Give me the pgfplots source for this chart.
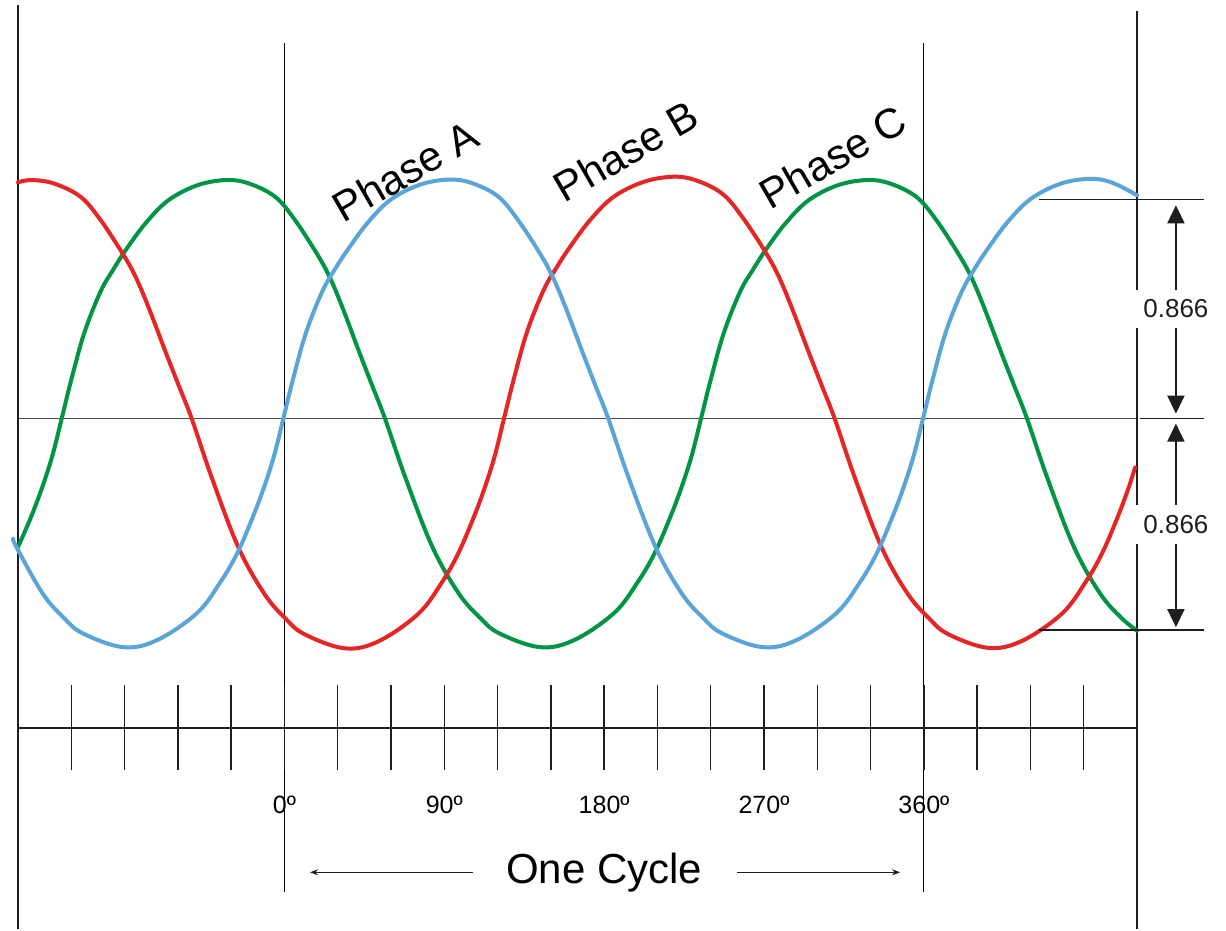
\documentclass[border=0pt]{standalone}
\usepackage{fontspec}
\setmainfont{Liberation Sans}
\usepackage{pgfplots}
\pgfplotsset{compat=1.18}
\usetikzlibrary{arrows.meta}

\definecolor{phA}{RGB}{90,164,216}
\definecolor{phB}{RGB}{228,38,38}
\definecolor{phC}{RGB}{0,148,68}
\definecolor{thin}{RGB}{110,110,110}
\definecolor{dark}{RGB}{30,30,30}

\begin{document}
\begin{tikzpicture}
\begin{axis}[
  scale only axis, width=559.35pt, height=464.5pt,
  xmin=-150, xmax=480, ymin=-2.1723, ymax=1.7809,
  hide axis, clip=false,
]
% picture frame (invisible)
\path (axis cs:-160.13,-2.1723) rectangle (axis cs:530.1,1.7809);

% thin guide lines
\draw[thin, line width=0.6pt] (axis cs:0,1.598) -- (axis cs:0,-2.015);
\draw[thin, line width=0.6pt] (axis cs:360,1.598) -- (axis cs:360,-2.015);
\draw[thin!70!black, line width=0.5pt] (axis cs:-150,0) -- (axis cs:480,0);

% borders
\draw[dark, line width=1.0pt] (axis cs:-150,1.7596) -- (axis cs:-150,-2.1723);
\draw[dark, line width=0.9pt] (axis cs:480,1.734) -- (axis cs:480,-2.1723);

% ruler
\draw[dark, line width=1.0pt] (axis cs:-150,-1.317) -- (axis cs:480,-1.317);
\pgfplotsinvokeforeach{-120,-90,-60,-30,0,30,60,90,120,150,180,210,240,270,300,330,360,390,420,450}{
  \draw[dark, line width=0.7pt] (axis cs:#1,-1.134) -- (axis cs:#1,-1.496);
}

% Phase C (green)
\addplot[phC, line width=2pt, smooth, tension=0.6, line join=round, line cap=round] coordinates {
(-150,-0.546) (-143.17,-0.428) (-136.78,-0.301) (-130.73,-0.160) (-125.4,0)
(-119.94,0.167) (-112.66,0.365) (-103.56,0.540) (-96.28,0.635) (-89.0,0.721) (-78.07,0.832)
(-65.33,0.929) (-48.95,0.993) (-32.57,1.015) (-19.83,1.0) (-5.27,0.944) (5.65,0.848)
(18.40,0.700) (25.68,0.599) (32.96,0.467) (42.06,0.284) (49.34,0.142) (56.62,0)
(68.01,-0.249) (83.31,-0.546) (98.07,-0.743) (109.99,-0.846) (120.85,-0.913) (143.62,-0.972)
(162.83,-0.943) (185.60,-0.827) (198.95,-0.695) (208.38,-0.573) (216.74,-0.428) (223.15,-0.301)
(229.19,-0.160) (234.53,0)
(240.04,0.167) (247.38,0.365) (256.55,0.540) (263.90,0.635) (271.24,0.721) (282.25,0.832)
(295.10,0.929) (311.62,0.993) (328.14,1.015) (341.0,1.0) (355.67,0.944) (366.68,0.848)
(379.53,0.700) (386.87,0.599) (394.21,0.467) (403.39,0.284) (410.73,0.142) (418.07,0)
(429.35,-0.249) (444.5,-0.546) (459.13,-0.743) (470.94,-0.846) (480,-0.902)
};
% Phase B (red)
\addplot[phB, line width=2pt, smooth, tension=0.6, line join=round, line cap=round] coordinates {
(-150,1.005) (-142.52,1.015) (-129.62,1.000) (-114.87,0.944) (-103.81,0.848) (-90.91,0.700)
(-83.54,0.599) (-76.16,0.467) (-66.94,0.284) (-59.57,0.142) (-52.2,0)
(-40.95,-0.250) (-25.83,-0.549) (-11.24,-0.746) (0.54,-0.850) (11.26,-0.917) (33.77,-0.977)
(52.75,-0.948) (75.26,-0.831) (88.44,-0.699) (97.76,-0.575) (106.02,-0.430) (112.35,-0.303)
(118.33,-0.161) (123.6,0)
(129.19,0.170) (136.63,0.370) (145.94,0.547) (153.39,0.645) (160.84,0.731) (172.01,0.844)
(185.04,0.942) (201.80,1.006) (218.55,1.029) (231.58,1.014) (246.48,0.957) (257.65,0.859)
(270.68,0.710) (278.13,0.607) (285.58,0.473) (294.89,0.288) (302.33,0.144) (309.78,0)
(321.07,-0.250) (336.24,-0.548) (350.88,-0.745) (362.70,-0.848) (373.46,-0.916) (396.05,-0.975)
(415.10,-0.946) (437.68,-0.830) (450.91,-0.697) (460.26,-0.574) (468.55,-0.429) (474.90,-0.302)
(478.9,-0.208)
};
% Phase A (blue)
\addplot[phA, line width=2pt, smooth, tension=0.6, line join=round, line cap=round] coordinates {
(-152.67,-0.511) (-150.9,-0.546) (-136.2,-0.743) (-124.4,-0.846) (-113.6,-0.913) (-91.0,-0.972)
(-71.9,-0.943) (-49.2,-0.827) (-36.0,-0.695) (-26.6,-0.573) (-18.3,-0.428) (-11.9,-0.301)
(-5.9,-0.160) (-0.64,0)
(4.85,0.168) (12.17,0.366) (21.32,0.541) (28.64,0.638) (35.96,0.722) (46.93,0.834)
(59.74,0.931) (76.21,0.995) (92.68,1.017) (105.49,1.002) (120.13,0.946) (131.11,0.849)
(143.91,0.702) (151.23,0.600) (158.55,0.468) (167.70,0.285) (175.02,0.142) (182.34,0)
(193.68,-0.249) (208.92,-0.546) (223.62,-0.743) (235.49,-0.846) (246.30,-0.913) (268.98,-0.972)
(288.11,-0.943) (310.79,-0.827) (324.08,-0.695) (333.47,-0.573) (341.79,-0.428) (348.17,-0.301)
(354.19,-0.160) (359.51,0)
(365.0,0.168) (372.3,0.367) (381.5,0.543) (388.8,0.640) (396.1,0.724) (407.1,0.836)
(419.9,0.933) (436.4,0.998) (452.8,1.02) (465.6,1.005) (480,0.95)
};

% phase labels
\node[rotate=30, font=\fontsize{21pt}{25pt}\selectfont] at (axis cs:67.9,1.053) {Phase A};
\node[rotate=30, font=\fontsize{21pt}{25pt}\selectfont] at (axis cs:192.3,1.138) {Phase B};
\node[rotate=30, font=\fontsize{21pt}{25pt}\selectfont] at (axis cs:308.8,1.113) {Phase C};

% degree labels
\node[font=\fontsize{12.5pt}{15pt}\selectfont] at (axis cs:0,-1.645) {0º};
\node[font=\fontsize{12.5pt}{15pt}\selectfont] at (axis cs:90,-1.645) {90º};
\node[font=\fontsize{12.5pt}{15pt}\selectfont] at (axis cs:180,-1.645) {180º};
\node[font=\fontsize{12.5pt}{15pt}\selectfont] at (axis cs:270,-1.645) {270º};
\node[font=\fontsize{12.5pt}{15pt}\selectfont] at (axis cs:360,-1.645) {360º};

% one cycle
\node[font=\fontsize{21pt}{25pt}\selectfont] at (axis cs:180,-1.93) {One Cycle};
\draw[dark, line width=0.5pt, -{Stealth[length=4pt,width=3pt]}] (axis cs:106.2,-1.93) -- (axis cs:14.4,-1.93);
\draw[dark, line width=0.5pt, -{Stealth[length=4pt,width=3pt]}] (axis cs:254.8,-1.93) -- (axis cs:346.6,-1.93);

% 0.866 annotation
\draw[dark, line width=0.8pt] (axis cs:424.8,0.933) -- (axis cs:517.7,0.933);
\draw[dark, line width=0.8pt] (axis cs:481.7,0) -- (axis cs:517.7,0);
\draw[dark, line width=0.8pt] (axis cs:424.8,-0.900) -- (axis cs:517.7,-0.900);
\draw[dark, line width=1pt, {Triangle[width=8.5pt,length=9pt]}-{Triangle[width=8.5pt,length=9pt]}, shorten <=3pt, shorten >=2.5pt]
  (axis cs:501.9,0.933) -- node[fill=white, inner sep=5pt, font=\fontsize{13pt}{15pt}\selectfont] {0.866} (axis cs:501.9,0);
\draw[dark, line width=1pt, {Triangle[width=8.5pt,length=9pt]}-{Triangle[width=8.5pt,length=9pt]}, shorten <=2.5pt, shorten >=1.5pt]
  (axis cs:501.9,0) -- node[fill=white, inner sep=5pt, font=\fontsize{13pt}{15pt}\selectfont] {0.866} (axis cs:501.9,-0.900);
\end{axis}
\end{tikzpicture}
\end{document}
